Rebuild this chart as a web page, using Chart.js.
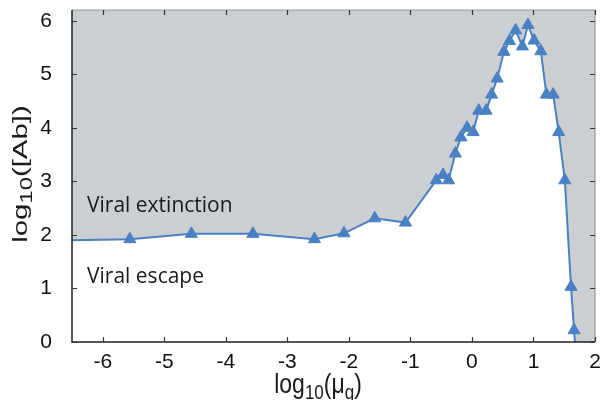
<!DOCTYPE html>
<html>
<head>
<meta charset="utf-8">
<script src="https://cdn.jsdelivr.net/npm/chart.js@4.4.1/dist/chart.umd.min.js"></script>
<style>
  html, body { margin: 0; padding: 0; background: #fff; }
  #wrap { width: 603px; height: 400px; }
</style>
</head>
<body>
<div id="wrap"><canvas id="c" width="603" height="400"></canvas></div>
<script>
// log10(mu_g) and log10([Ab])
// first and last two points only close the boundary, no marker there
const muValues = [-6.5, -5.56, -4.56, -3.56, -2.56, -2.08, -1.58, -1.08,
  -0.58, -0.47, -0.38, -0.27, -0.18, -0.08, 0.02, 0.11, 0.23, 0.32, 0.41,
  0.52, 0.61, 0.71, 0.82, 0.91, 1.01, 1.12, 1.21, 1.32, 1.41, 1.51, 1.61, 1.66,
  1.69, 2.0];
const abValues = [1.9, 1.92, 2.02, 2.02, 1.92, 2.03, 2.31, 2.23,
  3.02, 3.12, 3.02, 3.52, 3.82, 4.0, 3.92, 4.32, 4.32, 4.62, 4.92,
  5.42, 5.62, 5.82, 5.52, 5.92, 5.63, 5.43, 4.62, 4.62, 3.92, 3.02, 1.03, 0.22,
  -0.3, -0.3];
const hasMarker = muValues.map((v, i) => i > 0 && i < muValues.length - 2);

const xTicks = [-6, -5, -4, -3, -2, -1, 0, 1, 2];
const yTicks = [0, 1, 2, 3, 4, 5, 6];

const regionLabels = ['Viral extinction', 'Viral escape'];

const blue = '#4a80c4';
const grey = '#cbcfd1';

const framePlugin = {
  id: 'frame',
  afterDatasetsDraw(chart) {
    const { ctx, chartArea: a, scales: { x, y } } = chart;
    ctx.save();
    // region labels
    ctx.fillStyle = '#1a1a1a';
    ctx.font = '21px "Open Sans", "Noto Sans", sans-serif';
    ctx.textBaseline = 'alphabetic';
    ctx.textAlign = 'left';
    ctx.fillText(regionLabels[0], 87, 212);
    ctx.fillText(regionLabels[1], 87, 283);

    // box
    ctx.lineWidth = 1.2;
    ctx.strokeStyle = '#999';
    ctx.beginPath();
    ctx.moveTo(a.left, a.top); ctx.lineTo(a.right, a.top); ctx.lineTo(a.right, a.bottom);
    ctx.stroke();
    ctx.strokeStyle = '#222';
    ctx.lineWidth = 1.5;
    ctx.beginPath();
    ctx.moveTo(a.left, a.top); ctx.lineTo(a.left, a.bottom); ctx.lineTo(a.right, a.bottom);
    ctx.stroke();

    // inward ticks
    const len = 5;
    ctx.lineWidth = 1.2;
    ctx.beginPath();
    xTicks.forEach(v => {
      const px = Math.round(x.getPixelForValue(v)) + 0.5;
      ctx.moveTo(px, a.bottom); ctx.lineTo(px, a.bottom - len);
      ctx.moveTo(px, a.top); ctx.lineTo(px, a.top + len);
    });
    yTicks.forEach(v => {
      const py = Math.round(y.getPixelForValue(v)) + 0.5;
      ctx.moveTo(a.left, py); ctx.lineTo(a.left + len, py);
      ctx.moveTo(a.right, py); ctx.lineTo(a.right - len, py);
    });
    ctx.strokeStyle = '#333';
    ctx.stroke();

    // axis titles with subscripts (source figure is stretched, so scale the text)
    const drawParts = (p, big, small, subDrop) => {
      const ps = p.map(([t, sub]) => {
        ctx.font = sub ? small : big;
        return { t, sub, w: ctx.measureText(t).width };
      });
      const total = ps.reduce((s, q) => s + q.w, 0);
      let xx = -total / 2;
      ps.forEach(q => {
        ctx.font = q.sub ? small : big;
        ctx.fillText(q.t, xx, q.sub ? subDrop : 0);
        xx += q.w;
      });
    };
    const fam = '"Liberation Sans", Arial, sans-serif';
    ctx.fillStyle = '#1a1a1a';
    ctx.textAlign = 'left';

    ctx.save();
    ctx.translate(318, 393);
    ctx.scale(1, 1.2);
    drawParts([['log'], ['10', true], ['(\u03bc'], ['g', true], [')']],
      '23px ' + fam, '17px ' + fam, 5);
    ctx.restore();

    ctx.save();
    ctx.translate(27, 174);
    ctx.rotate(-Math.PI / 2);
    ctx.scale(1.4, 1);
    drawParts([['log'], ['10', true], ['([Ab])']],
      '21px ' + fam, '17px ' + fam, 5);
    ctx.restore();
    ctx.restore();
  }
};

new Chart(document.getElementById('c'), {
  type: 'line',
  data: {
    datasets: [{
      data: muValues.map((v, i) => ({ x: v, y: abValues[i] })),
      borderColor: blue,
      borderWidth: 2,
      backgroundColor: grey,
      fill: 'end',
      pointStyle: 'triangle',
      pointRadius: hasMarker.map(m => m ? 7 : 0),
      pointBackgroundColor: blue,
      pointBorderColor: blue,
      pointBorderWidth: 1,
      tension: 0
    }]
  },
  options: {
    responsive: false,
    animation: false,
    layout: { padding: { top: 10, right: 8, left: 0, bottom: 0 } },
    plugins: { legend: { display: false }, tooltip: { enabled: false } },
    scales: {
      x: {
        type: 'linear',
        min: -6.5,
        max: 2,
        afterBuildTicks: s => { s.ticks = xTicks.map(v => ({ value: v })); },
        afterFit: s => { s.height = 58; s.paddingLeft = 0; s.paddingRight = 0; },
        grid: { display: false },
        border: { display: false },
        ticks: {
          color: '#111',
          padding: 0,
          font: { family: '"Liberation Sans", Arial, sans-serif', size: 21 },
          maxRotation: 0
        }
      },
      y: {
        min: 0,
        max: 6.2,
        afterBuildTicks: s => { s.ticks = yTicks.map(v => ({ value: v })); },
        afterFit: s => { s.width = 72; s.paddingTop = 0; s.paddingBottom = 0; },
        grid: { display: false },
        border: { display: false },
        ticks: {
          color: '#111',
          padding: 12,
          font: { family: '"Liberation Sans", Arial, sans-serif', size: 21 }
        }
      }
    }
  },
  plugins: [framePlugin]
});
</script>
</body>
</html>
